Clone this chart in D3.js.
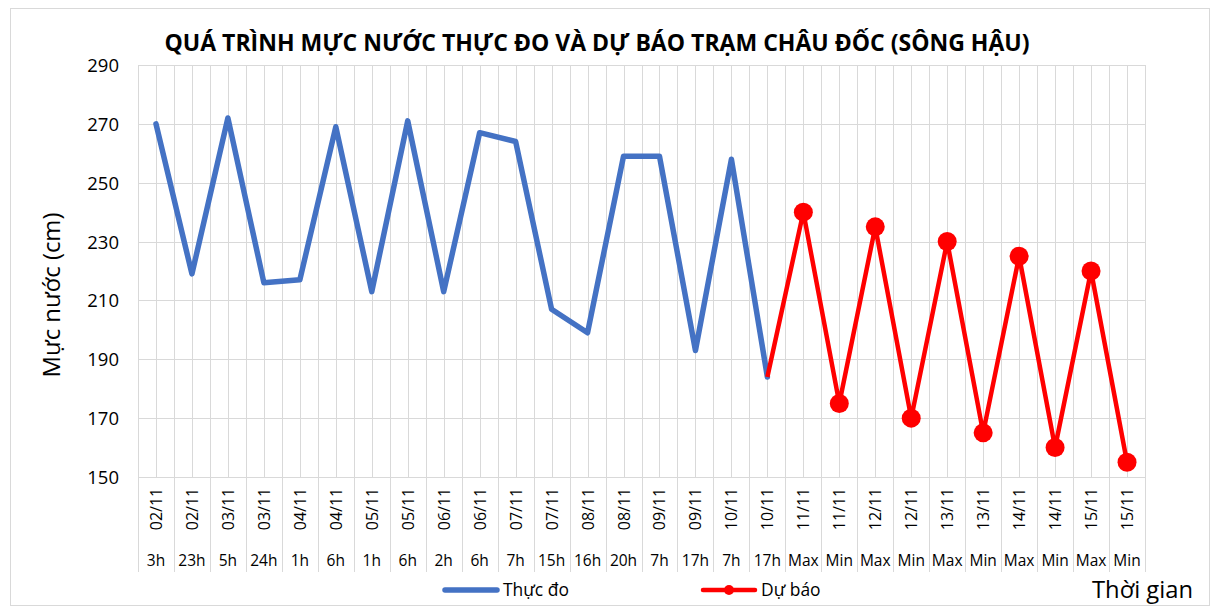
<!DOCTYPE html>
<html>
  <head>
    <meta charset="utf-8">
    <title>Mực nước trạm Châu Đốc</title>
    <script src="https://d3js.org/d3.v7.min.js"></script>
    <style>
      body { margin: 0; background: #fff; }
      svg text { font-family: "Open Sans", "Noto Sans", sans-serif; fill: #000; }
    </style>
  </head>
  <body>
    <svg id="chart" width="1217" height="609"></svg>
    <script>
      // data
      dates = ["02/11","02/11","03/11","03/11","04/11","04/11","05/11","05/11","06/11","06/11",
               "07/11","07/11","08/11","08/11","09/11","09/11","10/11","10/11",
               "11/11","11/11","12/11","12/11","13/11","13/11","14/11","14/11","15/11","15/11"];
      times = ["3h","23h","5h","24h","1h","6h","1h","6h","2h","6h",
               "7h","15h","16h","20h","7h","17h","7h","17h",
               "Max","Min","Max","Min","Max","Min","Max","Min","Max","Min"];
      measured = [270,219,272,216,217,269,213,271,213,267,264,207,199,259,259,193,258,184];
      // forecast starts from the last measured value (no marker there)
      forecastStart = 17;
      forecast = [184,240,175,235,170,230,165,225,160,220,155];
      yTicks = [150,170,190,210,230,250,270,290];

      chart = d3.select("#chart");

      // scale a text's font size so it spans a given length
      function fit(sel, target) {
        var size = parseFloat(sel.style("font-size"));
        var len = sel.node().getComputedTextLength();
        sel.style("font-size", (size * target / len).toFixed(2) + "px");
        return sel;
      }

      x = d3.scaleBand()
        .domain(d3.range(dates.length))
        .range([138, 1145])
        .padding(0);
      bw = x.bandwidth();
      cx = function(i) { return x(i) + bw / 2; };
      y = d3.scaleLinear()
        .domain([150, 290])
        .range([477, 65]);

      // outer frame
      chart.append("rect")
        .attr("x", 10.5).attr("y", 8.5)
        .attr("width", 1199).attr("height", 597)
        .attr("fill", "#fff")
        .attr("stroke", "#d9d9d9");

      // title
      title = chart.append("text")
        .attr("x", 597).attr("y", 51)
        .attr("text-anchor", "middle")
        .style("font-weight", "bold")
        .style("font-size", "20px")
        .text("QUÁ TRÌNH MỰC NƯỚC THỰC ĐO VÀ DỰ BÁO TRẠM CHÂU ĐỐC (SÔNG HẬU)");
      fit(title, 865);

      // gridlines
      grid = chart.append("g").attr("stroke", "#d9d9d9").attr("stroke-width", 1);
      vLines = [];
      d3.range(dates.length).forEach(function(i) { vLines.push(x(i), cx(i)); });
      vLines.push(x.range()[1]);
      grid.selectAll(".v")
        .data(vLines)
        .enter().append("line")
          .attr("x1", function(d) { return Math.round(d) + 0.5; })
          .attr("x2", function(d) { return Math.round(d) + 0.5; })
          .attr("y1", y(290)).attr("y2", y(150));
      grid.selectAll(".h")
        .data(yTicks)
        .enter().append("line")
          .attr("x1", x.range()[0]).attr("x2", x.range()[1])
          .attr("y1", function(d) { return Math.round(y(d)) + 0.5; })
          .attr("y2", function(d) { return Math.round(y(d)) + 0.5; });

      // category separators below the plot
      grid.selectAll(".sep")
        .data(d3.range(dates.length + 1))
        .enter().append("line")
          .attr("x1", function(i) { return Math.round(i < dates.length ? x(i) : x.range()[1]) + 0.5; })
          .attr("x2", function(i) { return Math.round(i < dates.length ? x(i) : x.range()[1]) + 0.5; })
          .attr("y1", y(150)).attr("y2", 572);

      // y axis
      yAxis = d3.axisLeft(y).tickValues(yTicks).tickSize(0).tickPadding(19);
      yAxisGroup = chart.append("g")
        .attr("transform", "translate(" + x.range()[0] + ",0)")
        .call(yAxis);
      yAxisGroup.select(".domain").remove();
      yAxisGroup.selectAll("text")
        .style("font-size", "18.5px")
        .attr("dy", "0.35em");

      yTitle = chart.append("text")
        .attr("transform", "translate(60,295) rotate(-90)")
        .attr("text-anchor", "middle")
        .style("font-size", "20px")
        .text("Mực nước (cm)");
      fit(yTitle, 165);

      // x axis, two levels
      xLabels = chart.append("g");
      xLabels.selectAll(".date")
        .data(dates)
        .enter().append("text")
          .attr("transform", function(d, i) { return "translate(" + (cx(i) + 6) + ",509) rotate(-90)"; })
          .attr("text-anchor", "middle")
          .style("font-size", "16px")
          .text(function(d) { return d; });
      xLabels.selectAll(".time")
        .data(times)
        .enter().append("text")
          .attr("x", function(d, i) { return cx(i); })
          .attr("y", 566)
          .attr("text-anchor", "middle")
          .style("font-size", "15.5px")
          .text(function(d) { return d; });

      // series
      line = d3.line()
        .x(function(d) { return cx(d.i); })
        .y(function(d) { return y(d.v); });
      measuredPts = measured.map(function(v, i) { return { i: i, v: v }; });
      forecastPts = forecast.map(function(v, k) { return { i: forecastStart + k, v: v }; });

      chart.append("path")
        .datum(measuredPts)
        .attr("d", line)
        .attr("fill", "none")
        .attr("stroke", "#4472c4")
        .attr("stroke-width", 5.5)
        .attr("stroke-linejoin", "round")
        .attr("stroke-linecap", "round");
      chart.append("path")
        .datum(forecastPts)
        .attr("d", line)
        .attr("fill", "none")
        .attr("stroke", "#ff0000")
        .attr("stroke-width", 4.5)
        .attr("stroke-linejoin", "round");
      chart.selectAll(".dot")
        .data(forecastPts.slice(1))
        .enter().append("circle")
          .attr("cx", function(d) { return cx(d.i); })
          .attr("cy", function(d) { return y(d.v); })
          .attr("r", 9.5)
          .attr("fill", "#ff0000");

      // legend
      legend = chart.append("g");
      legend.append("line")
        .attr("x1", 445).attr("x2", 497).attr("y1", 590).attr("y2", 590)
        .attr("stroke", "#4472c4").attr("stroke-width", 5.5).attr("stroke-linecap", "round");
      t1 = legend.append("text")
        .attr("x", 503).attr("y", 596)
        .style("font-size", "15px")
        .text("Thực đo");
      fit(t1, 66);
      legend.append("line")
        .attr("x1", 703).attr("x2", 755).attr("y1", 590).attr("y2", 590)
        .attr("stroke", "#ff0000").attr("stroke-width", 4.5).attr("stroke-linecap", "round");
      legend.append("circle")
        .attr("cx", 729).attr("cy", 590).attr("r", 5)
        .attr("fill", "#ff0000");
      t2 = legend.append("text")
        .attr("x", 761).attr("y", 596)
        .style("font-size", "15px")
        .text("Dự báo");
      t2.style("font-size", t1.style("font-size"));

      xTitle = chart.append("text")
        .attr("x", 1193).attr("y", 598)
        .attr("text-anchor", "end")
        .style("font-size", "21px")
        .text("Thời gian");
      fit(xTitle, 101);
    </script>
  </body>
</html>
